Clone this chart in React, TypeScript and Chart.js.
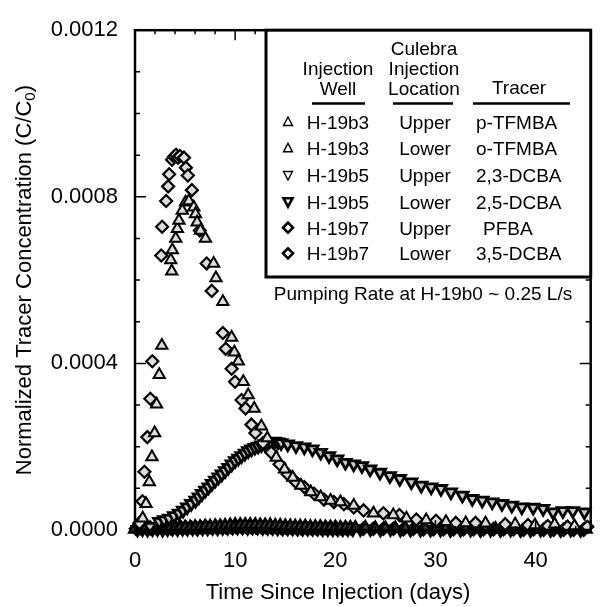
import React, { useEffect, useRef } from 'react';
import { Chart, registerables } from 'chart.js';
Chart.register(...registerables);

const FONT = "'Liberation Sans', Arial, Helvetica, sans-serif";

// ---- axis setup ----
const xMin = 0;
const xMax = 45.5;
const xStep = 10;
const xMinorStep = 2;
const yMin = 0;
const yMax = 0.0012;
const yStep = 0.0004;
const yMinorStep = 0.0001;
const xTitle = 'Time Since Injection (days)';
const yTitleMain = 'Normalized Tracer Concentration (C/C';
const yTitleSub = '0';
const yTitleEnd = ')';

// ---- legend table ----
const legendHeadCol1 = ['Injection', 'Well'];
const legendHeadCol2 = ['Culebra', 'Injection', 'Location'];
const legendHeadCol3 = ['Tracer'];
const legendWells = ['H-19b3', 'H-19b3', 'H-19b5', 'H-19b5', 'H-19b7', 'H-19b7'];
const legendLocations = ['Upper', 'Lower', 'Upper', 'Lower', 'Upper', 'Lower'];
const legendTracers = ['p-TFMBA', 'o-TFMBA', '2,3-DCBA', '2,5-DCBA', 'PFBA', '3,5-DCBA'];
const pumpingNote = 'Pumping Rate at H-19b0 ~ 0.25 L/s';

// ---- series: H-19b3 Upper, p-TFMBA (open up-triangles, early peak) ----
const pTFMBADays = [0.77, 1.10, 1.43, 1.69, 1.96, 2.15, 2.42, 2.68, 3.57, 3.67, 3.73, 4.07, 4.23, 4.39, 4.72, 5.05, 5.38, 5.87, 6.04, 6.20, 6.54, 7.03, 7.85, 8.08, 8.77, 9.65, 9.92, 10.32, 10.81, 11.30, 11.90, 12.62, 13.21, 14.1, 14.93, 15.75, 16.57, 17.55, 18.54, 19.53, 20.51, 21.84, 23.81, 25.79, 27.1, 29.07, 31.05, 33.02, 35.0, 37.96, 39.93, 41.9, 43.88];
const pTFMBAVals = [0.000028, 0.000063, 0.000115, 0.000175, 0.000233, 0.000302, 0.000373, 0.000443, 0.000648, 0.000621, 0.000672, 0.0007, 0.000723, 0.000743, 0.000767, 0.000787, 0.00079, 0.000775, 0.000759, 0.000739, 0.000719, 0.0007, 0.00064, 0.000605, 0.000548, 0.000462, 0.000427, 0.000405, 0.000356, 0.000324, 0.000292, 0.000249, 0.000221, 0.000174, 0.000146, 0.000126, 0.000107, 0.000091, 0.000079, 0.000071, 0.000067, 0.000059, 0.00004, 0.000036, 0.000028, 0.000024, 0.00002, 0.000017, 0.000016, 0.000014, 0.000012, 0.000014, 0.0000095];

// ---- series: H-19b7 Upper, PFBA (diamonds, earliest peak) ----
const pfbaDays = [0.44, 0.74, 0.94, 1.23, 1.53, 1.73, 2.62, 2.71, 3.11, 3.31, 3.41, 3.70, 3.90, 4.10, 4.29, 4.49, 4.89, 5.08, 5.28, 5.68, 6.47, 7.16, 7.66, 8.77, 9.06, 9.65, 9.99, 10.64, 11.04, 11.63, 12.02, 12.78, 13.6, 14.43, 15.25, 16.07, 16.9, 17.89, 18.87, 19.86, 20.85, 21.84, 22.82, 24.8, 26.4, 28.09, 30.06, 32.03, 34.0, 36.96, 39.24, 41.21, 43.19, 45.16];
const pfbaVals = [0.000017, 0.000069, 0.00014, 0.000223, 0.000315, 0.000405, 0.000659, 0.000728, 0.00079, 0.000825, 0.000854, 0.000889, 0.000896, 0.000901, 0.000894, 0.000898, 0.000894, 0.00087, 0.000851, 0.000816, 0.000719, 0.00064, 0.000574, 0.000473, 0.000435, 0.000387, 0.000356, 0.000312, 0.000292, 0.000253, 0.000233, 0.000209, 0.000186, 0.000158, 0.000134, 0.000115, 0.000103, 0.000087, 0.000073, 0.000067, 0.000062, 0.000054, 0.000047, 0.00004, 0.000036, 0.000025, 0.000022, 0.000017, 0.000017, 0.000014, 0.000012, 0.0000095, 0.000008, 0.0000078];

// ---- series: H-19b5 Lower, 2,5-DCBA (bold down-triangles, late broad peak) ----
const dcba25Days = [1.5, 2.42, 2.9, 3.4, 3.9, 4.39, 4.8, 5.21, 5.62, 6.04, 6.37, 6.69, 7.02, 7.35, 7.68, 8.01, 8.34, 8.67, 9.0, 9.33, 9.66, 9.99, 10.32, 10.64, 10.97, 11.3, 11.63, 11.96, 12.29, 12.62, 12.95, 13.28, 13.61, 13.94, 14.27, 14.59, 15.25, 16.07, 16.9, 17.72, 18.54, 19.37, 20.19, 21.01, 21.84, 22.66, 23.48, 24.46, 25.45, 26.44, 27.59, 28.58, 29.57, 30.55, 31.54, 32.69, 33.68, 34.67, 35.66, 36.64, 37.63, 38.62, 39.76, 40.75, 41.74, 42.72, 43.71, 44.87];
const dcba25Vals = [0.000008, 0.00002, 0.000024, 0.000028, 0.000034, 0.00004, 0.000047, 0.000055, 0.000063, 0.000071, 0.000079, 0.000087, 0.000095, 0.000103, 0.000111, 0.000119, 0.000127, 0.000134, 0.000142, 0.00015, 0.000158, 0.000166, 0.000172, 0.000178, 0.000184, 0.00019, 0.000194, 0.000198, 0.000201, 0.000204, 0.000207, 0.000209, 0.000211, 0.000213, 0.000211, 0.000209, 0.000206, 0.000202, 0.000199, 0.000194, 0.000186, 0.000178, 0.00017, 0.000162, 0.000158, 0.000154, 0.000146, 0.000138, 0.00013, 0.000123, 0.000115, 0.000107, 0.000103, 0.000099, 0.000091, 0.000083, 0.000075, 0.000071, 0.000067, 0.000063, 0.000059, 0.000055, 0.000054, 0.000051, 0.000043, 0.000046, 0.000046, 0.000043];

// ---- near-zero series ----
// H-19b3 Lower, o-TFMBA
const oTFMBADays = [0, 0.5, 1, 1.5, 2, 2.5, 3, 3.5, 4, 4.5, 5, 5.5, 6, 6.5, 7, 7.5, 8, 8.5, 9, 9.5, 10, 10.5, 11, 11.5, 12, 12.5, 13, 13.5, 14, 14.5, 15, 15.5, 16, 16.5, 17, 17.5, 18, 18.5, 19, 19.5, 20, 20.5, 21, 21.5, 22, 23, 24, 25, 26, 27, 28, 29, 30, 31, 32, 33, 34, 35, 36, 37, 38, 39, 40, 41, 42, 43, 44, 45];
const oTFMBAVals = [
  2e-6, 3e-6, 3e-6, 4e-6, 4e-6, 3e-6, 4e-6, 4e-6, 5e-6, 5e-6,
  6e-6, 6e-6, 7e-6, 7e-6, 8e-6, 8e-6, 9e-6, 9e-6, 10e-6, 11e-6,
  12e-6, 12e-6, 12e-6, 12e-6, 12e-6, 11e-6, 11e-6, 11e-6, 10e-6, 10e-6,
  9e-6, 9e-6, 8e-6, 8e-6, 8e-6, 7e-6, 7e-6, 7e-6, 6e-6, 6e-6,
  6e-6, 5e-6, 5e-6, 5e-6, 5e-6,
  5e-6, 4e-6, 4e-6, 4e-6, 4e-6, 3e-6, 3e-6, 3e-6, 3e-6, 3e-6,
  3e-6, 2e-6, 2e-6, 2e-6, 2e-6, 2e-6, 2e-6, 2e-6, 2e-6, 2e-6,
  2e-6, 2e-6, 2e-6,
];
// H-19b5 Upper, 2,3-DCBA
const dcba23Days = [0.25, 0.75, 1.25, 1.75, 2.25, 2.75, 3.25, 3.75, 4.25, 4.75, 5.25, 5.75, 6.25, 6.75, 7.25, 7.75, 8.25, 8.75, 9.25, 9.75, 10.25, 10.75, 11.25, 11.75, 12.25, 12.75, 13.25, 13.75, 14.25, 14.75, 15.25, 15.75, 16.25, 16.75, 17.25, 17.75, 18.25, 18.75, 19.25, 19.75, 20.25, 20.75, 21.25, 21.75, 22.5, 23.5, 24.5, 25.5, 26.5, 27.5, 28.5, 29.5, 30.5, 31.5, 32.5, 33.5, 34.5, 35.5, 36.5, 37.5, 38.5, 39.5, 40.5, 41.5, 42.5, 43.5, 44.5];
const dcba23Vals = [
  1e-6, 2e-6, 1e-6, 2e-6, 2e-6, 1e-6, 2e-6, 3e-6, 2e-6, 3e-6,
  3e-6, 4e-6, 3e-6, 4e-6, 4e-6, 5e-6, 4e-6, 5e-6, 5e-6, 6e-6,
  6e-6, 6e-6, 5e-6, 6e-6, 6e-6, 5e-6, 5e-6, 5e-6, 4e-6, 4e-6,
  4e-6, 4e-6, 3e-6, 3e-6, 3e-6, 3e-6, 3e-6, 2e-6, 2e-6, 2e-6,
  2e-6, 2e-6, 2e-6, 2e-6,
  2e-6, 2e-6, 1e-6, 2e-6, 1e-6, 1e-6, 1e-6, 1e-6, 1e-6, 0,
  1e-6, 1e-6, 0, 1e-6, 0, 1e-6, 0, 0, 1e-6, 0,
  0, 1e-6, 0,
];
// H-19b7 Lower, 3,5-DCBA
const dcba35Days = [0.1, 0.6, 1.1, 1.6, 2.1, 2.6, 3.1, 3.6, 4.1, 4.6, 5.1, 5.6, 6.1, 6.6, 7.1, 7.6, 8.1, 8.6, 9.1, 9.6, 10.1, 10.6, 11.1, 11.6, 12.1, 12.6, 13.1, 13.6, 14.1, 14.6, 15.1, 15.6, 16.1, 16.6, 17.1, 17.6, 18.1, 18.6, 19.1, 19.6, 20.1, 20.6, 21.1, 21.6, 22.8, 23.8, 24.8, 25.8, 26.8, 27.8, 28.8, 29.8, 30.8, 31.8, 32.8, 33.8, 34.8, 35.8, 36.8, 37.8, 38.8, 39.8, 40.8, 41.8, 42.8, 43.8, 44.8];
const dcba35Vals = [
  3e-6, 4e-6, 5e-6, 4e-6, 5e-6, 6e-6, 5e-6, 4e-6, 5e-6, 6e-6,
  5e-6, 6e-6, 5e-6, 6e-6, 7e-6, 6e-6, 7e-6, 7e-6, 6e-6, 7e-6,
  7e-6, 8e-6, 7e-6, 7e-6, 6e-6, 7e-6, 6e-6, 6e-6, 6e-6, 5e-6,
  5e-6, 5e-6, 5e-6, 4e-6, 5e-6, 4e-6, 4e-6, 4e-6, 4e-6, 4e-6,
  4e-6, 3e-6, 4e-6, 3e-6,
  3e-6, 3e-6, 3e-6, 3e-6, 2e-6, 3e-6, 2e-6, 2e-6, 2e-6, 2e-6,
  2e-6, 2e-6, 2e-6, 2e-6, 2e-6, 2e-6, 1e-6, 2e-6, 1e-6, 1e-6,
  1e-6, 1e-6, 1e-6,
];

type Pt = { x: number; y: number };
const toPts = (days: number[], vals: number[]): Pt[] => days.map((d, i) => ({ x: d, y: vals[i] }));

// marker kinds for legend: 'up', 'down', 'downBold', 'diamond'
const legendMarkers = ['up', 'up', 'down', 'downBold', 'diamond', 'diamond'];

function drawMarker(ctx: CanvasRenderingContext2D, kind: string, x: number, y: number) {
  ctx.save();
  ctx.strokeStyle = '#000';
  ctx.fillStyle = '#fff';
  ctx.beginPath();
  if (kind === 'up') {
    ctx.lineWidth = 1.4;
    ctx.moveTo(x, y - 5);
    ctx.lineTo(x + 4.5, y + 3.5);
    ctx.lineTo(x - 4.5, y + 3.5);
    ctx.closePath();
  } else if (kind === 'down' || kind === 'downBold') {
    ctx.lineWidth = kind === 'downBold' ? 2.6 : 1.4;
    ctx.moveTo(x, y + 5);
    ctx.lineTo(x + 4.5, y - 3.5);
    ctx.lineTo(x - 4.5, y - 3.5);
    ctx.closePath();
  } else {
    ctx.lineWidth = 2.6;
    ctx.moveTo(x, y - 5);
    ctx.lineTo(x + 5, y);
    ctx.lineTo(x, y + 5);
    ctx.lineTo(x - 5, y);
    ctx.closePath();
  }
  ctx.fill();
  ctx.stroke();
  ctx.restore();
}

const framePlugin = {
  id: 'frameLegend',
  afterDraw(chart: any) {
    const ctx: CanvasRenderingContext2D = chart.ctx;
    const { left, right, top, bottom } = chart.chartArea;
    const xs = chart.scales.x;
    const ys = chart.scales.y;
    ctx.save();
    ctx.strokeStyle = '#000';
    ctx.fillStyle = '#000';
    // frame
    ctx.lineWidth = 2.5;
    ctx.strokeRect(left, top, right - left, bottom - top);
    // y ticks (inward, both sides)
    ctx.lineWidth = 1.5;
    for (let k = 0; k * yMinorStep <= yMax + 1e-12; k++) {
      const v = k * yMinorStep;
      const py = ys.getPixelForValue(v);
      const major = k % Math.round(yStep / yMinorStep) === 0;
      const len = major ? 11 : 5;
      ctx.beginPath();
      ctx.moveTo(left, py);
      ctx.lineTo(left + len, py);
      ctx.moveTo(right, py);
      ctx.lineTo(right - len, py);
      ctx.stroke();
    }
    // x ticks (inward, top and bottom)
    for (let k = 0; k * xMinorStep <= xMax + 1e-9; k++) {
      const v = k * xMinorStep;
      const px = xs.getPixelForValue(v);
      const major = v % xStep === 0;
      const len = major ? 10 : 4;
      ctx.beginPath();
      ctx.moveTo(px, top);
      ctx.lineTo(px, top + len);
      ctx.moveTo(px, bottom);
      ctx.lineTo(px, bottom - len);
      ctx.stroke();
    }

    // legend box
    const bx = 266;
    const by = top;
    const bw = right - bx;
    const bh = 277 - top;
    ctx.fillStyle = '#fff';
    ctx.fillRect(bx, by, bw, bh);
    ctx.lineWidth = 3;
    ctx.strokeRect(bx, by, bw, bh);

    ctx.fillStyle = '#000';
    ctx.font = `19px ${FONT}`;
    ctx.textBaseline = 'alphabetic';
    ctx.textAlign = 'center';
    const c1 = 338;
    const c2 = 424;
    const c3 = 519;
    ctx.fillText(legendHeadCol2[0], c2, 55);
    ctx.fillText(legendHeadCol1[0], c1, 75);
    ctx.fillText(legendHeadCol2[1], c2, 75);
    ctx.fillText(legendHeadCol1[1], c1, 95);
    ctx.fillText(legendHeadCol2[2], c2, 95);
    ctx.fillText(legendHeadCol3[0], c3, 94);
    // underlines
    ctx.lineWidth = 2.5;
    ctx.beginPath();
    ctx.moveTo(312, 103.5); ctx.lineTo(365, 103.5);
    ctx.moveTo(393, 103.5); ctx.lineTo(453, 103.5);
    ctx.moveTo(473, 103.5); ctx.lineTo(570, 103.5);
    ctx.stroke();

    const rowY = [122, 148.3, 175, 201.7, 227.7, 253.3];
    for (let i = 0; i < legendWells.length; i++) {
      const y = rowY[i];
      drawMarker(ctx, legendMarkers[i], 288, y);
      ctx.fillStyle = '#000';
      ctx.textAlign = 'center';
      ctx.fillText(legendWells[i], c1, y + 7);
      ctx.fillText(legendLocations[i], c2 + 1, y + 7);
      ctx.textAlign = 'left';
      ctx.fillText(legendTracers[i], legendTracers[i] === 'PFBA' ? 483 : 476, y + 7);
    }
    ctx.textAlign = 'center';
    ctx.fillText(pumpingNote, 423, 300);

    // axis titles
    ctx.font = `22px ${FONT}`;
    ctx.textAlign = 'center';
    ctx.fillText(xTitle, 338, 599);

    ctx.save();
    ctx.translate(31, (top + bottom) / 2);
    ctx.rotate(-Math.PI / 2);
    const mainW = ctx.measureText(yTitleMain).width;
    ctx.font = `15px ${FONT}`;
    const subW = ctx.measureText(yTitleSub).width;
    ctx.font = `22px ${FONT}`;
    const endW = ctx.measureText(yTitleEnd).width;
    const total = mainW + subW + endW;
    let cx = -total / 2;
    ctx.textAlign = 'left';
    ctx.fillText(yTitleMain, cx, 0);
    cx += mainW;
    ctx.font = `15px ${FONT}`;
    ctx.fillText(yTitleSub, cx, 4);
    cx += subW;
    ctx.font = `22px ${FONT}`;
    ctx.fillText(yTitleEnd, cx, 0);
    ctx.restore();

    ctx.restore();
  },
};

export default function App() {
  const ref = useRef<HTMLCanvasElement | null>(null);
  useEffect(() => {
    if (!ref.current) return;
    const fill = '#dcdcdc';
    const common = { showLine: false, pointBorderColor: '#000', pointBackgroundColor: fill, clip: false as any };
    const low = { ...common, pointBackgroundColor: '#3a3a3a' };
    const chart = new Chart(ref.current, {
      type: 'scatter',
      data: {
        datasets: [
          { ...common, label: 'H-19b3 Upper p-TFMBA', data: toPts(pTFMBADays, pTFMBAVals), pointStyle: 'triangle', pointRadius: 6.5, pointBorderWidth: 2 },
          { ...common, label: 'H-19b7 Upper PFBA', data: toPts(pfbaDays, pfbaVals), pointStyle: 'rectRot', pointRadius: 6, pointBorderWidth: 2.2 },
          { ...common, label: 'H-19b5 Lower 2,5-DCBA', data: toPts(dcba25Days, dcba25Vals), pointStyle: 'triangle', rotation: 180, pointRadius: 6.5, pointBorderWidth: 2.8, pointBackgroundColor: '#c8c8c8' },
          { ...low, label: 'H-19b3 Lower o-TFMBA', data: toPts(oTFMBADays, oTFMBAVals), pointStyle: 'triangle', pointRadius: 6.5, pointBorderWidth: 2.6 },
          { ...low, label: 'H-19b5 Upper 2,3-DCBA', data: toPts(dcba23Days, dcba23Vals), pointStyle: 'triangle', rotation: 180, pointRadius: 6.5, pointBorderWidth: 2.6 },
          { ...low, label: 'H-19b7 Lower 3,5-DCBA', data: toPts(dcba35Days, dcba35Vals), pointStyle: 'rectRot', pointRadius: 6, pointBorderWidth: 2.6 },
        ] as any,
      },
      options: {
        responsive: false,
        animation: false,
        devicePixelRatio: 1,
        layout: { padding: { left: 0, right: 5, top: 24, bottom: 0 } },
        plugins: { legend: { display: false }, tooltip: { enabled: false } },
        scales: {
          x: {
            type: 'linear',
            min: xMin,
            max: xMax,
            grid: { display: false, drawTicks: false },
            border: { display: false },
            ticks: { stepSize: xStep, includeBounds: false, padding: 18, color: '#000', font: { family: FONT, size: 22 } },
            afterFit: (s: any) => { s.height = 77; },
          },
          y: {
            type: 'linear',
            min: yMin,
            max: yMax,
            grid: { display: false, drawTicks: false },
            border: { display: false },
            ticks: { stepSize: yStep, padding: 17, color: '#000', font: { family: FONT, size: 22 }, callback: (v: any) => Number(v).toFixed(4) },
            afterFit: (s: any) => { s.width = 135; },
          },
        },
      },
      plugins: [framePlugin],
    });
    return () => chart.destroy();
  }, []);
  return (
    <div style={{ position: 'absolute', left: 0, top: 0, width: 600, height: 607, background: '#fff' }}>
      <canvas ref={ref} width={600} height={607} style={{ width: 600, height: 607, display: 'block' }} />
    </div>
  );
}
